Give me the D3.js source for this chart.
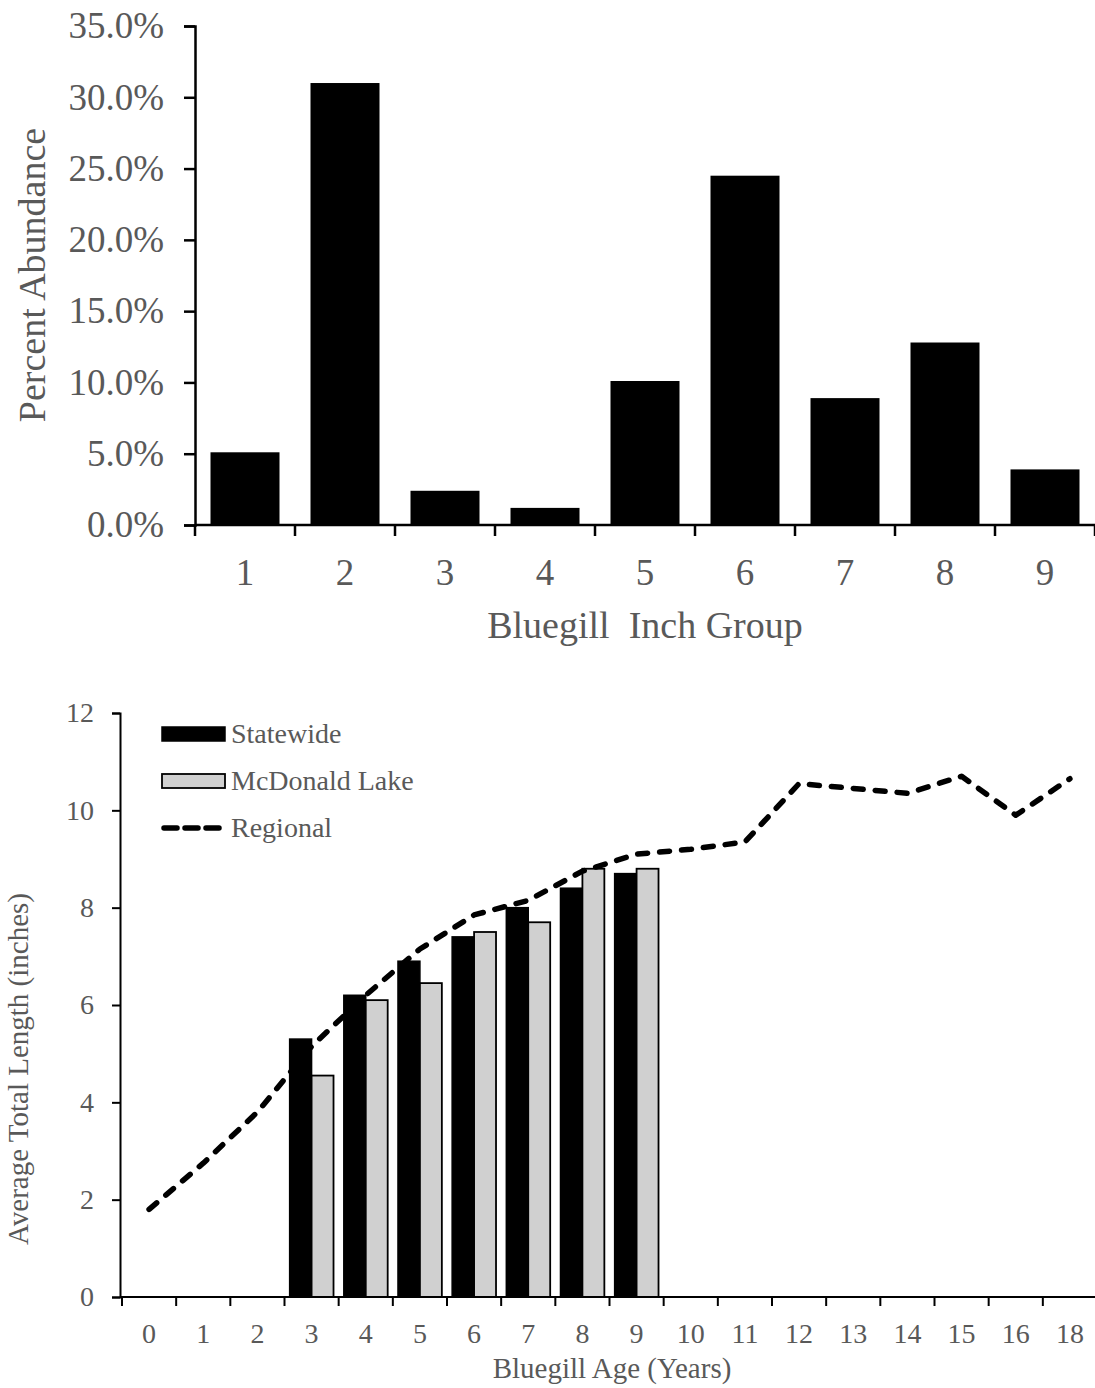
<!DOCTYPE html>
<html>
<head>
<meta charset="utf-8">
<script src="https://cdn.jsdelivr.net/npm/d3@7"></script>
<style>
  html, body { margin: 0; padding: 0; background: #fff; }
  svg text { font-family: "Liberation Serif", "Times New Roman", serif; fill: #595959; }
</style>
</head>
<body>
<svg id="chart" width="1095" height="1388"></svg>
<script>
// ---------- Data: top chart ----------
const inchGroups = ["1", "2", "3", "4", "5", "6", "7", "8", "9"];
const percentAbundance = [5.1, 31.0, 2.4, 1.2, 10.1, 24.5, 8.9, 12.8, 3.9];
const percentTicks = [0, 5, 10, 15, 20, 25, 30, 35];

// ---------- Data: bottom chart ----------
const ages = ["0","1","2","3","4","5","6","7","8","9","10","11","12","13","14","15","16","18"];
const statewide = [null, null, null, 5.3, 6.2, 6.9, 7.4, 8.0, 8.4, 8.7, null, null, null, null, null, null, null, null];
const mcdonald = [null, null, null, 4.55, 6.1, 6.45, 7.5, 7.7, 8.8, 8.8, null, null, null, null, null, null, null, null];
const regional = [1.8, 2.75, 3.8, 5.15, 6.2, 7.15, 7.85, 8.15, 8.75, 9.1, 9.2, 9.35, 10.55, 10.45, 10.35, 10.7, 9.9, 10.65];
const lengthTicks = [0, 2, 4, 6, 8, 10, 12];
const seriesNames = ["Statewide", "McDonald Lake", "Regional"];

const svg = d3.select("#chart");

// ================= TOP CHART =================
(function () {
  const left = 195, right = 1095, top = 26, bottom = 525;
  const x = d3.scaleBand().domain(inchGroups).range([left, right]).paddingInner(0.31).paddingOuter(0.155);
  const y = d3.scaleLinear().domain([0, 35]).range([bottom, top]);
  const g = svg.append("g");

  g.selectAll("rect.bar").data(inchGroups).join("rect")
    .attr("class", "bar")
    .attr("x", d => x(d))
    .attr("width", x.bandwidth())
    .attr("y", (d, i) => y(percentAbundance[i]))
    .attr("height", (d, i) => y(0) - y(percentAbundance[i]))
    .attr("fill", "#000");

  // y axis
  const yAxis = d3.axisLeft(y).tickValues(percentTicks).tickFormat(d => d.toFixed(1) + "%").tickSize(11).tickPadding(20);
  const ya = g.append("g").attr("transform", `translate(${left},0)`).call(yAxis);
  ya.select(".domain").attr("stroke", "#000").attr("stroke-width", 2.5);
  ya.selectAll(".tick line").attr("stroke", "#000").attr("stroke-width", 2.5);
  ya.selectAll(".tick text").style("font-size", "37px").attr("fill", "#595959");

  // x axis (labels centered, ticks at band boundaries)
  const xAxis = d3.axisBottom(x).tickSize(0).tickPadding(34);
  const xa = g.append("g").attr("transform", `translate(0,${bottom})`).call(xAxis);
  xa.select(".domain").remove();
  xa.selectAll(".tick text").style("font-size", "37px").attr("fill", "#595959");
  g.append("line").attr("x1", left).attr("x2", right).attr("y1", bottom).attr("y2", bottom)
    .attr("stroke", "#000").attr("stroke-width", 2.5);
  const step = x.step();
  g.selectAll("line.bt").data(d3.range(inchGroups.length + 1)).join("line")
    .attr("class", "bt")
    .attr("x1", i => left + i * step).attr("x2", i => left + i * step)
    .attr("y1", bottom).attr("y2", bottom + 11)
    .attr("stroke", "#000").attr("stroke-width", 2.5);

  g.append("text").attr("transform", `translate(45,275) rotate(-90)`)
    .attr("text-anchor", "middle").style("font-size", "38px").text("Percent Abundance");
  g.append("text").attr("x", 645).attr("y", 638)
    .attr("text-anchor", "middle").style("font-size", "38px").style("white-space", "pre")
    .attr("xml:space", "preserve").text("Bluegill  Inch Group");
})();

// ================= BOTTOM CHART =================
(function () {
  const left = 122, right = 1097, top = 713, bottom = 1297;
  const x = d3.scaleBand().domain(ages).range([left, right]).paddingInner(0.19).paddingOuter(0.095);
  const xs = d3.scaleBand().domain(["Statewide", "McDonald Lake"]).range([0, x.bandwidth()]);
  const y = d3.scaleLinear().domain([0, 12]).range([bottom, top]);
  const g = svg.append("g");

  const rows = ages.map((a, i) => ({ age: a, Statewide: statewide[i], "McDonald Lake": mcdonald[i] }));
  const grp = g.selectAll("g.grp").data(rows.filter(r => r.Statewide != null)).join("g")
    .attr("class", "grp").attr("transform", d => `translate(${x(d.age)},0)`);
  grp.append("rect")
    .attr("x", xs("Statewide")).attr("width", xs.bandwidth())
    .attr("y", d => y(d.Statewide)).attr("height", d => y(0) - y(d.Statewide))
    .attr("fill", "#000").attr("stroke", "#000").attr("stroke-width", 1.5);
  grp.append("rect")
    .attr("x", xs("McDonald Lake")).attr("width", xs.bandwidth())
    .attr("y", d => y(d["McDonald Lake"])).attr("height", d => y(0) - y(d["McDonald Lake"]))
    .attr("fill", "#d0d0d0").attr("stroke", "#000").attr("stroke-width", 1.8);

  // regional line
  const line = d3.line().x((d, i) => x(ages[i]) + x.bandwidth() / 2).y(d => y(d));
  g.append("path").datum(regional).attr("d", line)
    .attr("fill", "none").attr("stroke", "#000").attr("stroke-width", 5.5)
    .attr("stroke-dasharray", "10,12").attr("stroke-linecap", "round").attr("stroke-linejoin", "round");

  // y axis
  const yAxis = d3.axisLeft(y).tickValues(lengthTicks).tickSize(8).tickPadding(18);
  const ya = g.append("g").attr("transform", `translate(${left - 2},0)`).call(yAxis);
  ya.select(".domain").attr("stroke", "#000").attr("stroke-width", 2);
  ya.selectAll(".tick line").attr("stroke", "#000").attr("stroke-width", 2);
  ya.selectAll(".tick text").style("font-size", "28px").attr("fill", "#595959");

  // x axis
  const xAxis = d3.axisBottom(x).tickSize(0).tickPadding(26);
  const xa = g.append("g").attr("transform", `translate(0,${bottom})`).call(xAxis);
  xa.select(".domain").remove();
  xa.selectAll(".tick text").style("font-size", "28px").attr("fill", "#595959");
  g.append("line").attr("x1", left - 2).attr("x2", right).attr("y1", bottom).attr("y2", bottom)
    .attr("stroke", "#000").attr("stroke-width", 2);
  const step = x.step();
  g.selectAll("line.bt").data(d3.range(ages.length + 1)).join("line")
    .attr("class", "bt")
    .attr("x1", i => left + i * step).attr("x2", i => left + i * step)
    .attr("y1", bottom).attr("y2", bottom + 9)
    .attr("stroke", "#000").attr("stroke-width", 2);

  // titles
  g.append("text").attr("transform", `translate(28,1069) rotate(-90)`)
    .attr("text-anchor", "middle").style("font-size", "29px").text("Average Total Length (inches)");
  g.append("text").attr("x", 612).attr("y", 1378)
    .attr("text-anchor", "middle").style("font-size", "29px").text("Bluegill Age (Years)");

  // legend
  const lg = g.append("g");
  const ly = [734, 781, 828];
  lg.append("rect").attr("x", 162).attr("y", ly[0] - 7).attr("width", 63).attr("height", 14)
    .attr("fill", "#000").attr("stroke", "#000").attr("stroke-width", 1.5);
  lg.append("rect").attr("x", 162).attr("y", ly[1] - 7).attr("width", 63).attr("height", 14)
    .attr("fill", "#d0d0d0").attr("stroke", "#000").attr("stroke-width", 1.8);
  lg.append("line").attr("x1", 164).attr("x2", 223).attr("y1", ly[2]).attr("y2", ly[2])
    .attr("stroke", "#000").attr("stroke-width", 5.5).attr("stroke-dasharray", "13,8").attr("stroke-linecap", "round");
  lg.selectAll("text").data(seriesNames).join("text")
    .attr("x", 231).attr("y", (d, i) => ly[i] + 9)
    .style("font-size", "28px").text(d => d);
})();
</script>
</body>
</html>
